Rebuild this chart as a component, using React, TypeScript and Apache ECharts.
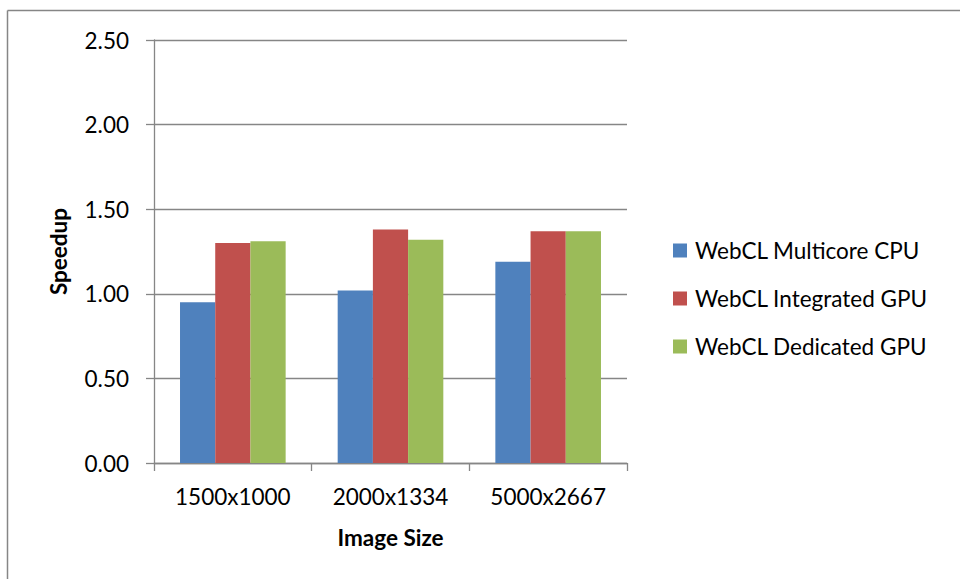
import React, { useEffect, useRef } from "react";
import * as echarts from "echarts";

const categories = ["1500x1000", "2000x1334", "5000x2667"];
const seriesNames = ["WebCL Multicore CPU", "WebCL Integrated GPU", "WebCL Dedicated GPU"];
const multicoreCpu = [0.95, 1.02, 1.19];
const integratedGpu = [1.3, 1.38, 1.37];
const dedicatedGpu = [1.31, 1.32, 1.37];
const seriesColors = ["#4F81BD", "#C0504D", "#9BBB59"];

const FONT = "Lato, 'Open Sans', sans-serif";
const GRID_GRAY = "#868686";
const FS = 22.5;

export default function App() {
  const ref = useRef<HTMLDivElement>(null);

  useEffect(() => {
    if (!ref.current) return;
    const chart = echarts.init(ref.current, undefined, { renderer: "svg" });
    const values = [multicoreCpu, integratedGpu, dedicatedGpu];
    chart.setOption({
      animation: false,
      backgroundColor: "#ffffff",
      textStyle: { fontFamily: FONT },
      grid: { left: 154, right: 333, top: 40, bottom: 116 },
      legend: {
        orient: "vertical",
        left: 668,
        top: 234,
        itemWidth: 14,
        itemHeight: 14,
        itemGap: 25,
        icon: "rect",
        textStyle: { fontFamily: FONT, fontSize: FS, color: "#000", padding: [0, 0, 0, 3] },
        data: seriesNames,
      },
      xAxis: {
        type: "category",
        data: categories,
        name: "Image Size",
        nameLocation: "middle",
        nameGap: 63,
        nameTextStyle: { fontFamily: FONT, fontSize: FS, fontWeight: "bold", color: "#000" },
        axisLine: { lineStyle: { color: GRID_GRAY, width: 1.3 } },
        axisTick: { show: true, length: 8, lineStyle: { color: GRID_GRAY, width: 1.3 } },
        axisLabel: { fontFamily: FONT, fontSize: FS, color: "#000", margin: 22 },
      },
      yAxis: {
        type: "value",
        min: 0,
        max: 2.5,
        interval: 0.5,
        name: "Speedup",
        nameLocation: "middle",
        nameGap: 84,
        nameTextStyle: { fontFamily: FONT, fontSize: FS, fontWeight: "bold", color: "#000" },
        axisLine: { show: true, lineStyle: { color: GRID_GRAY, width: 1.3 } },
        axisTick: { show: true, length: 8, lineStyle: { color: GRID_GRAY, width: 1.3 } },
        axisLabel: {
          fontFamily: FONT,
          fontSize: FS,
          color: "#000",
          margin: 25,
          formatter: (v: number) => v.toFixed(2),
        },
        splitLine: { show: true, lineStyle: { color: GRID_GRAY, width: 1.3 } },
      },
      series: seriesNames.map((name, i) => ({
        name,
        type: "bar",
        data: values[i],
        barGap: "0%",
        barCategoryGap: "33%",
        itemStyle: { color: seriesColors[i] },
      })),
      graphic: [
        {
          type: "line",
          shape: { x1: 7.5, y1: 10.5, x2: 960, y2: 10.5 },
          style: { stroke: GRID_GRAY, lineWidth: 1.5 },
        },
        {
          type: "line",
          shape: { x1: 7.5, y1: 10.5, x2: 7.5, y2: 579 },
          style: { stroke: GRID_GRAY, lineWidth: 1.5 },
        },
      ],
    });
    return () => chart.dispose();
  }, []);

  return (
    <div
      ref={ref}
      style={{ position: "fixed", left: 0, top: 0, width: 960, height: 579 }}
    />
  );
}
